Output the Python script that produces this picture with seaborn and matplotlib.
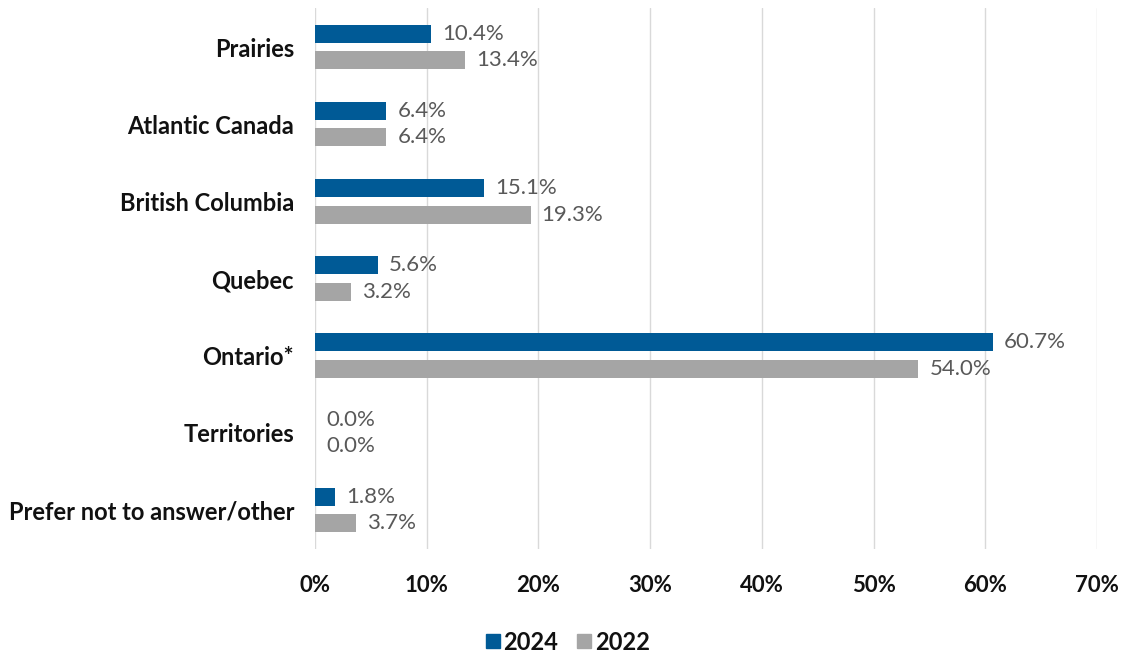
import matplotlib
matplotlib.use("Agg")
import matplotlib.pyplot as plt
import seaborn as sns
import pandas as pd
from matplotlib.ticker import FuncFormatter
from matplotlib.font_manager import FontProperties

regions = ["Prairies", "Atlantic Canada", "British Columbia", "Quebec",
           "Ontario*", "Territories", "Prefer not to answer/other"]
values_2024 = [10.4, 6.4, 15.1, 5.6, 60.7, 0.0, 1.8]
values_2022 = [13.4, 6.4, 19.3, 3.2, 54.0, 0.0, 3.7]
years = ["2024", "2022"]
colors = {"2024": "#005a96", "2022": "#a5a5a5"}

df = pd.DataFrame({
    "region": regions * 2,
    "year": [years[0]] * len(regions) + [years[1]] * len(regions),
    "share": values_2024 + values_2022,
})

sns.set_theme(style="white")
plt.rcParams["font.family"] = ["Lato", "DejaVu Sans"]

fig = plt.figure(figsize=(11.22, 6.52), dpi=100)
ax = fig.add_axes([0.2807, 0.1586, 0.697, 0.8284])

sns.barplot(data=df, y="region", x="share", hue="year", palette=colors,
            orient="h", width=0.686, gap=0.32, ax=ax, legend=False,
            order=regions, hue_order=years, saturation=1, linewidth=0)

ax.set_xlim(0, 70)
ax.set_xticks(range(0, 71, 10))
ax.xaxis.set_major_formatter(FuncFormatter(lambda v, _: f"{v:.0f}%"))
ax.grid(axis="x", color="#d9d9d9", linewidth=1)
ax.set_axisbelow(True)
for s in ax.spines.values():
    s.set_visible(False)
ax.tick_params(axis="both", length=0)
ax.tick_params(axis="x", pad=19)
ax.tick_params(axis="y", pad=15)
ax.set_xlabel("")
ax.set_ylabel("")
for lbl in ax.get_yticklabels():
    lbl.set_fontweight("bold")
    lbl.set_fontsize(17)
    lbl.set_color("#111111")
for lbl in ax.get_xticklabels():
    lbl.set_fontweight("bold")
    lbl.set_fontsize(16)
    lbl.set_color("#111111")

for cont in ax.containers:
    ax.bar_label(cont, labels=[f"{w:.1f}%" for w in cont.datavalues],
                 padding=8, fontsize=16, color="#595959")

handles = [plt.Line2D([], [], marker="s", linestyle="", markersize=10,
                      color=colors[y]) for y in years]
leg_font = FontProperties(family=["Lato"], weight="bold", size=17)
leg = fig.legend(handles, years, loc="lower center", ncol=2, frameon=False,
                 bbox_to_anchor=(0.503, -0.035), handletextpad=-0.15,
                 columnspacing=0.5, handlelength=1.2, prop=leg_font)
for t in leg.get_texts():
    t.set_color("#111111")

fig.savefig("out.png", dpi=100)
